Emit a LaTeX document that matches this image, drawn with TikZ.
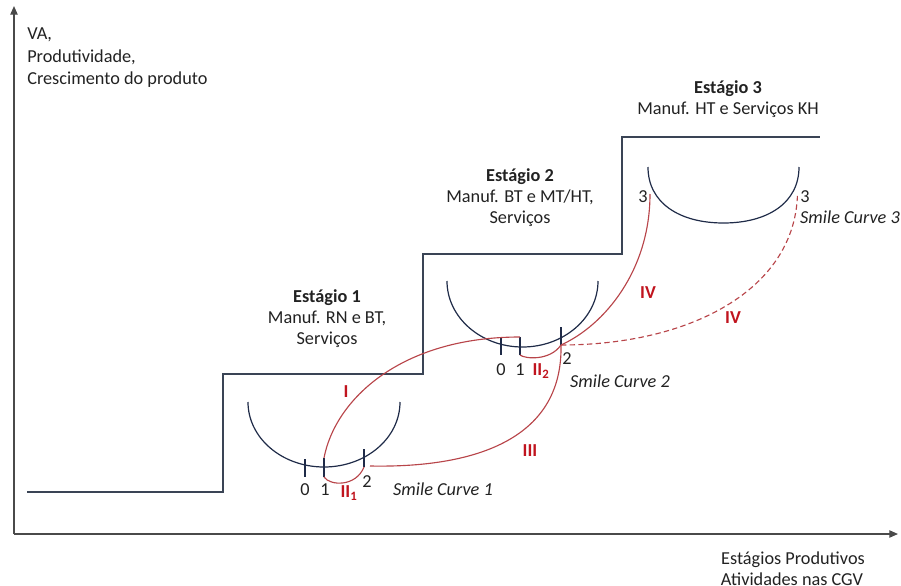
\documentclass[tikz,border=0pt]{standalone}
\usepackage{fontspec}
\setmainfont{Carlito}
\usetikzlibrary{arrows.meta}
\definecolor{axisc}{HTML}{4A4A4A}
\definecolor{stepc}{HTML}{3A4455}
\definecolor{smilec}{HTML}{1F2B48}
\definecolor{redline}{HTML}{B8454A}
\definecolor{redlab}{HTML}{C0141E}
\definecolor{txt}{HTML}{222222}
\newcommand\bigf{\fontsize{13.7}{16.9}\selectfont}
\tikzset{
  every node/.style={font=\bigf, text=txt, inner sep=0pt},
  axisline/.style={draw=axisc, line width=0.9pt, -{Triangle[length=6.5pt,width=5.5pt]}},
  stepline/.style={draw=stepc, line width=1.1pt},
  smile/.style={draw=smilec, line width=0.9pt},
  tick/.style={draw=smilec, line width=0.9pt},
  redc/.style={draw=redline, line width=0.85pt},
  reddash/.style={draw=redline, line width=0.85pt, dash pattern=on 4pt off 2.5pt},
  rlab/.style={font=\bigf\bfseries, text=redlab},
  itl/.style={font=\bigf\itshape},
  bold/.style={font=\bigf\bfseries},
}
\begin{document}
\begin{tikzpicture}[x=0.75pt,y=-0.75pt]
\useasboundingbox (0,0) rectangle (901,586);

% axes
\coordinate (O) at (14,534);
\coordinate (ytop) at (14,6);
\coordinate (xend) at (898,534);
\draw[axisline] (O) -- (ytop);
\draw[axisline] (O) -- (xend);

\node[anchor=base west] (y1) at (27,39) {VA,};
\node[anchor=base west] (y2) at (27,62) {Produtividade,};
\node[anchor=base west] (y3) at (27,84) {Crescimento do produto};

\node[anchor=base] (x1) at (793,564) {Estágios Produtivos};
\node[anchor=base] (x2) at (792,585) {Atividades nas CGV};

% steps
\draw[stepline] (27,492) -- (223,492) -- (223,374) -- (423,374) -- (423,254) -- (622,254) -- (622,137) -- (820,137);

% stage labels
\node[bold, anchor=base] (e1) at (327,302) {Estágio 1};
\node[anchor=base] (e1a) at (327,323) {Manuf. RN e BT,};
\node[anchor=base] (e1b) at (327,344) {Serviços};

\node[bold, anchor=base] (e2) at (520,181) {Estágio 2};
\node[anchor=base] (e2a) at (520,202) {Manuf. BT e MT/HT,};
\node[anchor=base] (e2b) at (520,223) {Serviços};

\node[bold, anchor=base] (e3) at (728,93) {Estágio 3};
\node[anchor=base] (e3a) at (728,114) {Manuf. HT e Serviços KH};

% smile curve 1
\coordinate (s1l) at (248,402);
\coordinate (s1b) at (324,467);
\coordinate (s1r) at (400,402);
\draw[smile] (s1l) .. controls +(0,36) and +(-42,0) .. (s1b) .. controls +(42,0) and +(0,36) .. (s1r);
\coordinate (a0t) at (305,459); \coordinate (a0b) at (305,477);
\coordinate (a1t) at (324,458); \coordinate (a1b) at (324,477);
\coordinate (a2t) at (364,449); \coordinate (a2b) at (364,467);
\draw[tick] (a0t) -- (a0b);
\draw[tick] (a1t) -- (a1b);
\draw[tick] (a2t) -- (a2b);

% smile curve 2
\coordinate (s2l) at (447,281);
\coordinate (s2b) at (522.5,347);
\coordinate (s2r) at (598,281);
\draw[smile] (s2l) .. controls +(0,36.4) and +(-41.7,0) .. (s2b) .. controls +(41.7,0) and +(0,36.4) .. (s2r);
\coordinate (b0t) at (501,337); \coordinate (b0b) at (501,355);
\coordinate (b1t) at (520,337); \coordinate (b1b) at (520,355);
\coordinate (b2t) at (561,327); \coordinate (b2b) at (561,345);
\draw[tick] (b0t) -- (b0b);
\draw[tick] (b1t) -- (b1b);
\draw[tick] (b2t) -- (b2b);

% smile curve 3
\coordinate (s3l) at (648,167);
\coordinate (s3b) at (723.5,223);
\coordinate (s3r) at (799,167);
\draw[smile] (s3l) .. controls +(0,36) and +(-44,0) .. (s3b) .. controls +(44,0) and +(0,36) .. (s3r);
\coordinate (c3l) at (650,194);
\coordinate (c3r) at (797.5,194);

% red connectors
\draw[redc] (a1t) .. controls (335,400) and (400,337) .. (b1t);
\draw[redc] (a1b) .. controls (330,486) and (356,487) .. (a2b);
\coordinate (a2s) at (370,466);
\draw[redc] (a2s) .. controls (470,468) and (563,442) .. (b2b);
\draw[redc] (b1b) .. controls (525,359) and (550,361) .. (b2b);
\draw[redc] (b2b) .. controls (605,325) and (650,270) .. (c3l);
\draw[reddash] (b2b) .. controls (690,345) and (795,290) .. (c3r);

% labels
\node (n0a) at (305,490) {0};
\node (n1a) at (325,490) {1};
\node[rlab] (ii1) at (349,493) {II\textsubscript{1}};
\node (n2a) at (367,482) {2};
\node[itl] (sc1) at (443,489) {Smile Curve 1};
\node[rlab] (lI) at (346,392) {I};
\node[rlab] (lIII) at (530,451) {III};

\node (n0b) at (501,370) {0};
\node (n1b) at (520,370) {1};
\node[rlab] (ii2) at (541,371) {II\textsubscript{2}};
\node (n2b) at (567,359) {2};
\node[itl] (sc2) at (620,381) {Smile Curve 2};

\node[rlab] (lIVa) at (648,293) {IV};
\node (n3a) at (643,197) {3};
\node (n3b) at (805,197) {3};
\node[rlab] (lIVb) at (733,318) {IV};
\node[itl] (sc3) at (850,217) {Smile Curve 3};
\end{tikzpicture}
\end{document}
